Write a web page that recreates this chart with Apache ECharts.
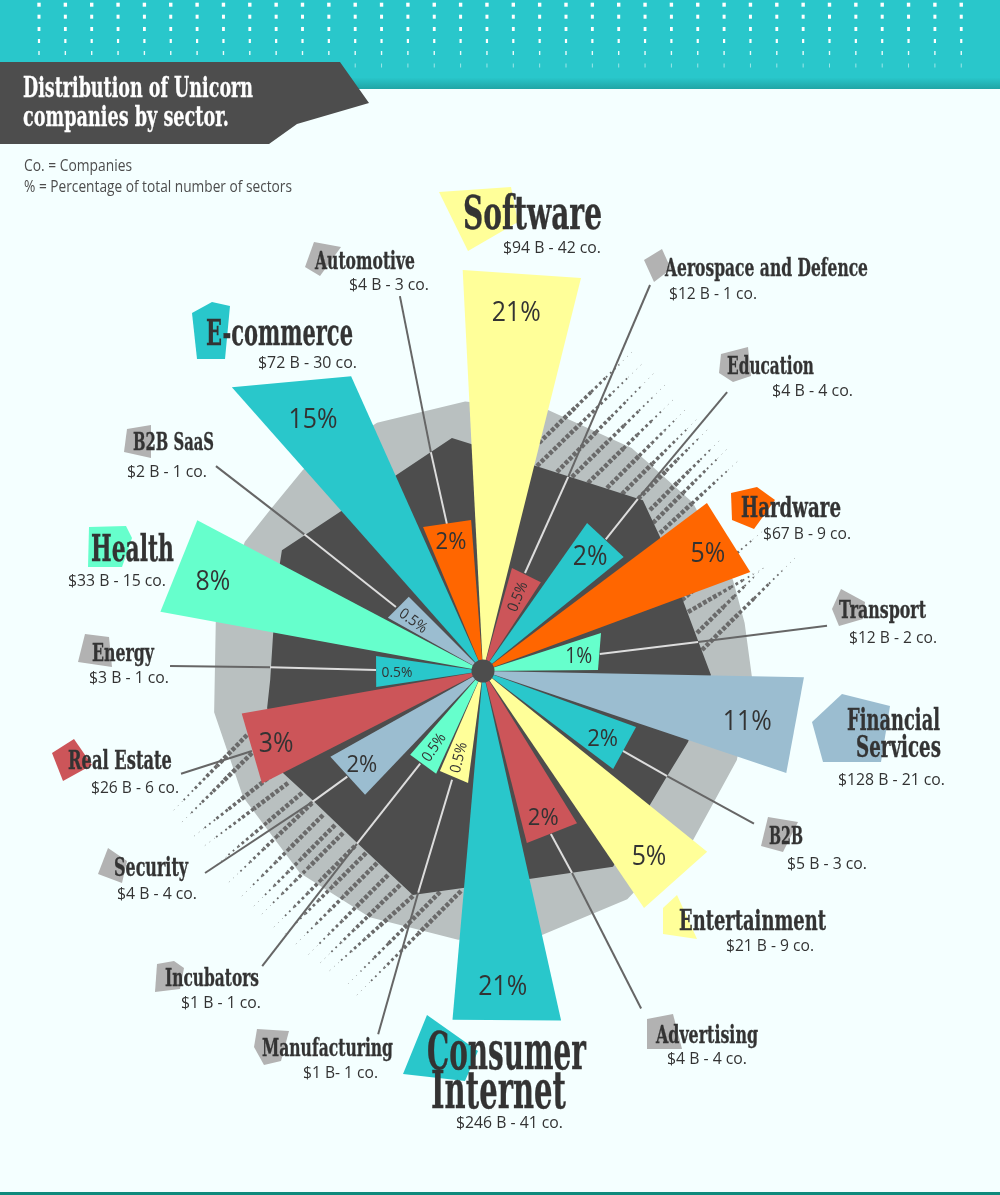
<!DOCTYPE html>
<html><head><meta charset="utf-8">
<style>html,body{margin:0;padding:0;background:#f4ffff}#c{width:1000px;height:1195px}</style>
<script src="https://cdn.jsdelivr.net/npm/echarts@6/dist/echarts.min.js"></script>
</head><body><div id="c"></div>
<script>
// ---------- DATA (angles in degrees clockwise from north, reach = radial length) ----------
const sectors = ['Software','Aerospace and Defence','Education','Hardware','Transport','Financial Services','B2B','Entertainment','Advertising','Consumer Internet','Manufacturing','Incubators','Security','Real Estate','Energy','Health','B2B SaaS','E-commerce','Automotive'];
const percents = ['21%','0.5%','2%','5%','1%','11%','2%','5%','2%','21%','0.5%','0.5%','2%','3%','0.5%','8%','0.5%','15%','2%'];
const details = ['$94 B - 42 co.','$12 B - 1 co.','$4 B - 4 co.','$67 B - 9 co.','$12 B - 2 co.','$128 B - 21 co.','$5 B - 3 co.','$21 B - 9 co.','$4 B - 4 co.','$246 B - 41 co.','$1 B- 1 co.','$1 B - 1 co.','$4 B - 4 co.','$26 B - 6 co.','$3 B - 1 co.','$33 B - 15 co.','$2 B - 1 co.','$72 B - 30 co.','$4 B - 3 co.'];
const wedgeFrom = [357.1,15.7,35.1,53.1,72.1,91.1,110.1,128.9,148.3,167.4,187.6,204.5,223.6,243,261.5,280.4,299.2,318.5,337.4];
const wedgeTo   = [14,33.1,51,69.7,89.5,108.6,127,145.8,165.7,185,203.3,221,240.7,260,278,297.8,315,335.9,355.5];
const reachFrom = [401.5,107,181,280,124,321,163,288,179,358,113,113,171,248,108,328,109,379,156];
const reachTo   = [405,106,181,285,115,320,163,286.5,177.5,350,109,111,175,245,108,323,105,323,151.5];
const percentAngle = [5.3,25,43,62.3,81.1,100.7,119.2,138.1,157.6,176.4,195.6,212.8,232.5,250.8,269.3,288.4,306,326,346.2];
const percentReach = [360.5,83,157,254,97,269,137,248.6,158,316,89,90,152.6,219,86,284.6,86.6,304,134];

const outerAngles = [356.2,336.9,318.2,307.1,298.5,280.8,261.3,242.3,222.2,204.7,185.3,167.4,147.7,145.9,128.8,109.3,91.3,79.6,70,51.3,33.7,14];
const outerReach  = [270,270,270,267,271,272,272,271,272.6,271,270,270.5,270,268,269.6,269,269,266,266,269,268,269];
const innerAngles = [357,352.4,335.7,318,301,298,279.7,267.6,260.3,243,233,216.2,197.4,185.3,167.5,146.4,128.7,120,109.1,91,69.9,52.9,43.1,13.6];
const innerReach  = [227.3,235,214,214,234.6,230,213,213,219,224.5,214,213,234.7,218,213,235,214,212,217,228,212,222,234,212];

// leader lines: [reach, angle] at wedge end, at the inner-polygon edge, and at the label
const leaderFrom  = [[106.6,23.2],[180,43],[118,81.7],[161,119.7],[176.6,157.4],[113,195.9],[112,214.1],[172,232.1],[244.5,250.9],[107,270.5],[108,306.3],[151,346.2]];
const leaderCross = [[212,23.7],[231.5,42],[217,82.3],[212,119.7],[220.7,156.2],[231,196.3],[214,216.1],[215,232.5],[244.5,250.9],[213,271],[225,307.4],[225,346.6]];
const leaderTo    = [[420.6,23.4],[370.6,41.2],[347,82.5],[311,119.4],[372.7,154.9],[378,196.1],[368.6,216.8],[343.6,234],[319,251.2],[313,270.9],[336.6,307.5],[384,347.5]];

// ---------- STYLE / LAYOUT ----------
const TEAL='#29c7cb',YEL='#ffff99',ORG='#ff6600',GRN='#66ffcc',BLU='#9bbdd0',RED='#cc5559',DARK='#4d4d4d',INK='#333333',BLOB='#b2b2b2';
const wedgeColors=[YEL,RED,TEAL,ORG,GRN,BLU,TEAL,YEL,RED,TEAL,YEL,GRN,BLU,RED,TEAL,GRN,BLU,TEAL,ORG];
const percentSize=[27,15,27,27,21,27,24,27,24,27,15,15,24,27,15,27,15,27,24];
const percentTilt=[0,68,0,0,0,0,0,0,0,0,76,56,0,0,0,0,-36,0,0];
const SLAB='"DejaVu Serif"',SANS='"Open Sans"';
// [text, left, right, midY, fontSize]
const nameLayout=[
 ['Software',463,602,217,46],['Aerospace and Defence',665,868,269,25],['Education',727,814,367,25],['Hardware',741,841,510,27],
 ['Transport',839,926,611,25],['Financial',847,940,722,29],['Services',856,941,749,29],['B2B',769,803,837,25],
 ['Entertainment',679,826,923,28],['Advertising',656,758,1036,25],['Consumer',427,586,1055,52],['Internet',431,566,1094,52],
 ['Manufacturing',262,393,1049,25],['Incubators',165,259,979,25],['Security',114,188,869,26],['Real Estate',68,172,762,26],
 ['Energy',92,154,654,25],['Health',91,174,551,37],['B2B SaaS',133,214,443,25],['E-commerce',206,353,336,35],['Automotive',315,415,262,25]];
const detailLayout=[[503,601,248],[669,757,294],[772,853,391],[763,851,534],[849,937,638],[838,945,780],[787,867,864],[726,814,946],[667,747,1059],[456,563,1123],[303,378,1073],[181,261,1003],[117,197,894],[91,179,788],[89,169,678],[68,166,581],[127,207,472],[258,357,363],[349,429,285]];
const blobs=[
 [YEL,[[439,192],[511,187],[518,222],[468,251]]],[BLOB,[[644,260],[662,249],[671,269],[654,282]]],
 [BLOB,[[314,242],[341,247],[320,276],[305,267]]],[TEAL,[[192,313],[212,302],[230,306],[225,359],[197,359]]],
 [BLOB,[[127,429],[151,425],[151,458],[124,452]]],[GRN,[[89,527],[126,526],[132,538],[122,567],[88,567]]],
 [BLOB,[[721,354],[748,347],[751,376],[733,382],[719,373]]],[ORG,[[731,493],[757,487],[775,500],[754,529],[732,520]]],
 [BLOB,[[841,589],[865,602],[863,619],[839,626],[832,609]]],[BLU,[[812,722],[842,694],[890,706],[881,762],[823,762]]],
 [BLOB,[[768,817],[798,822],[783,852],[761,846]]],[YEL,[[677,895],[697,939],[663,934],[663,908]]],
 [BLOB,[[647,1019],[673,1014],[682,1049],[647,1049]]],[TEAL,[[427,1015],[478,1051],[465,1081],[403,1074]]],
 [BLOB,[[257,1029],[289,1031],[281,1061],[264,1065],[254,1047]]],[BLOB,[[157,964],[174,961],[184,968],[180,989],[155,992]]],
 [BLOB,[[108,848],[127,861],[122,883],[98,874]]],[RED,[[74,739],[92,765],[63,781],[52,753]]],
 [BLOB,[[85,634],[109,637],[112,667],[78,662]]]];
// hatch texture: [startX,startY,runX,runY]
const hatch=[[539,443,93,-91],[537,466,106,-103],[557,472,97,-99],[572,477,93,-92],[588,483,88,-86],[607,488,80,-80],[622,494,76,-76],[638,499,70,-70],[650,510,70,-70],[653,523,75,-75],[660,533,79,-73],
 [682,600,82,-70],[688,612,76,-44],[697,633,66,-65],[702,650,93,-92],
 [461,891,-106,106],[440,892,-92,92],[413,896,-86,77],[400,885,-82,80],[388,875,-82,82],[377,863,-84,84],[366,853,-84,84],[355,846,-84,84],[343,833,-84,84],[335,825,-84,84],[323,815,-84,84],[312,803,-86,82],[302,793,-88,74],[288,783,-85,64],[272,775,-79,62],[252,753,-71,70],[247,735,-75,77]];

const chart=echarts.init(document.getElementById('c'),null,{renderer:'canvas',width:1000,height:1195});
const mc=document.createElement('canvas').getContext('2d');
function fit(text,l,r,y,size,font,weight,fill,z,bold){
  mc.font=(weight||'normal')+' '+size+'px '+font;
  const style={text:text,fontFamily:font,fontSize:size,fontWeight:weight||'normal',fill:fill,textAlign:'left',textVerticalAlign:'middle'};
  if(bold){style.stroke=fill;style.lineWidth=bold;}
  return {type:'text',x:l,y:y,scaleX:(r-l)/mc.measureText(text).width,z:z||9,silent:true,style:style};
}
const g=[];
// header
g.push({type:'rect',z:0,silent:true,shape:{x:0,y:0,width:1000,height:89},style:{fill:new echarts.graphic.LinearGradient(0,0,0,1,[{offset:0,color:TEAL},{offset:.87,color:TEAL},{offset:1,color:'#1fa5a5'}])}});
const dotRows=[[4.7,3.4,1],[16.7,3,1],[29,2.8,1],[41,2.2,1],[53,1.4,.9],[65.5,1,.55]];
for(let k=0;k<36;k++)dotRows.forEach(d=>g.push({type:'rect',z:0.5,silent:true,shape:{x:39+26.35*k-d[1]/2,y:d[0]-2,width:d[1],height:4},style:{fill:'#fff',opacity:d[2]}}));
g.push({type:'polygon',z:1,silent:true,shape:{points:[[0,62],[340,62],[369,103],[297,124],[269,144],[0,144]]},style:{fill:DARK}});
g.push(fit('Distribution of Unicorn',23,253,90,27,SLAB,'bold','#ffffff',9,.3));
g.push(fit('companies by sector.',23,229,119,27,SLAB,'bold','#ffffff',9,.3));
g.push(fit('Co. = Companies',24,132,167,15.5,SANS,'normal',DARK));
g.push(fit('% = Percentage of total number of sectors',24,292,188,15.5,SANS,'normal',DARK));
g.push({type:'rect',z:1,silent:true,shape:{x:0,y:1192,width:1000,height:3},style:{fill:'#0f8a7c'}});
// hatch
const steps=[[0,.4,4.5,[4,1.8]],[.4,.56,3.6,[3.4,2.4]],[.56,.72,2.8,[2.8,3]],[.72,.86,1.8,[1.8,4]],[.86,1,1,[1,4.8]]];
hatch.forEach(h=>steps.forEach(s=>g.push({type:'line',z:2,silent:true,
  shape:{x1:h[0]+h[2]*s[0],y1:h[1]+h[3]*s[0],x2:h[0]+h[2]*s[1],y2:h[1]+h[3]*s[1]},
  style:{stroke:'#6a6a6a',lineWidth:s[2],lineDash:s[3],opacity:s[2]==1?.6:1}})));
// blobs + text
blobs.forEach(b=>g.push({type:'polygon',z:7,silent:true,shape:{points:b[1]},style:{fill:b[0]}}));
nameLayout.forEach(n=>g.push(fit(n[0],n[1],n[2],n[3],n[4],SLAB,'bold',INK,9,.35)));
details.forEach((t,i)=>{const d=detailLayout[i];g.push(fit(t,d[0],d[1],d[2],16.5,SANS,'normal',INK));});

function polyFrom(angles,reach,api){return angles.map((a,i)=>api.coord([reach[i],a]));}
const option={
  backgroundColor:'#f4ffff',animation:false,
  polar:{center:[483,671],radius:440},
  radiusAxis:{type:'value',min:0,max:440,show:false,splitLine:{show:false}},
  angleAxis:{type:'value',min:0,max:360,startAngle:90,clockwise:true,show:false,splitLine:{show:false}},
  graphic:{elements:g},
  series:[
   {type:'custom',coordinateSystem:'polar',z:1,silent:true,data:[[0,0]],
    renderItem:(p,api)=>({type:'polygon',shape:{points:polyFrom(outerAngles,outerReach,api)},style:{fill:'#b9c0c0'}})},
   {type:'custom',coordinateSystem:'polar',z:3,silent:true,data:[[0,0]],
    renderItem:(p,api)=>({type:'polygon',shape:{points:polyFrom(innerAngles,innerReach,api)},style:{fill:DARK}})},
   {type:'custom',coordinateSystem:'polar',z:4,silent:true,data:leaderFrom.map((_,i)=>[i,0]),
    renderItem:(p,api)=>{const i=p.dataIndex,a=api.coord(leaderFrom[i]),b=api.coord(leaderCross[i]),c=api.coord(leaderTo[i]);
      return {type:'group',children:[
        {type:'line',shape:{x1:a[0],y1:a[1],x2:b[0],y2:b[1]},style:{stroke:'#dddddd',lineWidth:2}},
        {type:'line',shape:{x1:b[0],y1:b[1],x2:c[0],y2:c[1]},style:{stroke:'#666666',lineWidth:2}}]};}},
   {type:'custom',coordinateSystem:'polar',z:5,silent:true,
    data:sectors.map((s,i)=>[wedgeFrom[i],wedgeTo[i],reachFrom[i],reachTo[i]]),
    renderItem:(p,api)=>{const i=p.dataIndex,o=api.coord([0,0]);
      return {type:'polygon',shape:{points:[o,api.coord([api.value(2),api.value(0)]),api.coord([api.value(3),api.value(1)])]},style:{fill:wedgeColors[i]}};}},
   {type:'custom',coordinateSystem:'polar',z:6,silent:true,data:[[0,0]],
    renderItem:(p,api)=>{const o=api.coord([0,0]);return {type:'circle',shape:{cx:o[0],cy:o[1],r:11.5},style:{fill:DARK}};}},
   {type:'custom',coordinateSystem:'polar',z:6,silent:true,
    data:percents.map((s,i)=>[percentAngle[i],percentReach[i]]),
    renderItem:(p,api)=>{const i=p.dataIndex,c=api.coord([api.value(1),api.value(0)]);
      return {type:'text',x:c[0],y:c[1]+1,rotation:percentTilt[i]*Math.PI/180,scaleX:.92,
        style:{text:percents[i],fontFamily:SANS,fontSize:percentSize[i],fill:INK,textAlign:'center',textVerticalAlign:'middle'}};}}
  ]};
chart.setOption(option);
</script></body></html>
